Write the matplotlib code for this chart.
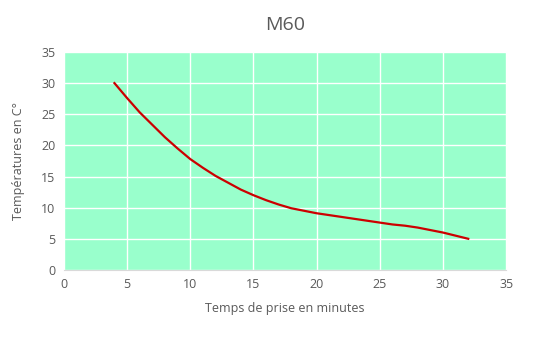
import matplotlib
matplotlib.use("Agg")
import matplotlib.pyplot as plt

# M60 cooling curve
temps_minutes = [4, 5, 6, 7, 8, 9, 10, 11, 12, 13, 14, 15, 16, 17, 18,
                 19, 20, 21, 22, 23, 24, 25, 26, 27, 28, 29, 30, 31, 32]
temperatures = [30.0, 27.6, 25.3, 23.3, 21.3, 19.5, 17.8, 16.4, 15.1, 14.0,
                12.9, 12.0, 11.2, 10.5, 9.9, 9.5, 9.1, 8.8, 8.5, 8.2, 7.9,
                7.6, 7.3, 7.1, 6.8, 6.4, 6.0, 5.5, 5.0]

plt.rcParams['font.family'] = ['Open Sans', 'DejaVu Sans']
grey = "#595959"

fig = plt.figure(figsize=(5.46, 3.51), dpi=100)
ax = fig.add_axes([0.117, 0.231, 0.81, 0.621])
ax.set_facecolor("#99FFCC")

ax.plot(temps_minutes, temperatures, color="#CC0000", linewidth=1.6)

ax.set_xlim(0, 35)
ax.set_ylim(0, 35)
ax.set_xticks(range(0, 36, 5))
ax.set_yticks(range(0, 36, 5))
ax.grid(True, color="white", linewidth=1)
ax.set_axisbelow(True)
for side in ["top", "right", "left"]:
    ax.spines[side].set_visible(False)
ax.spines["bottom"].set_color("#d9d9d9")
ax.tick_params(length=0, labelsize=9, colors=grey, pad=6)

ax.set_title("M60", fontsize=14, color=grey, pad=16)
ax.set_xlabel("Temps de prise en minutes", fontsize=9, color=grey, labelpad=8)
ax.set_ylabel("Températures en C°", fontsize=9, color=grey, labelpad=12)

fig.savefig("out.png", dpi=100)
